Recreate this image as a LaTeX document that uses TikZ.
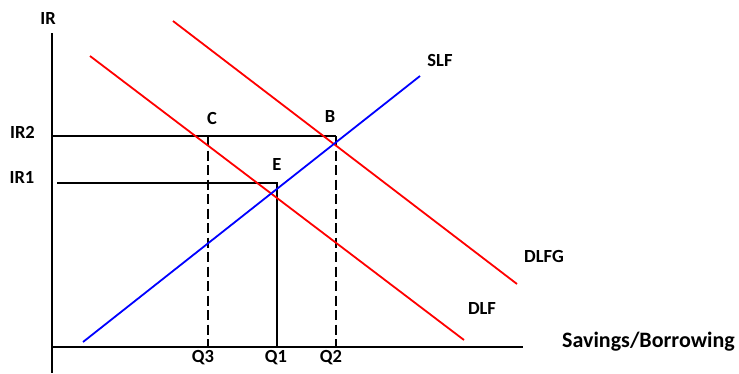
\documentclass[tikz,border=0pt]{standalone}
\usepackage{fontspec}
\setmainfont{Carlito}
\usepackage{xcolor}
\usetikzlibrary{positioning}
\definecolor{rojoDLF}{RGB}{255,0,0}
\definecolor{azulSLF}{RGB}{0,0,255}

\begin{document}
\begin{tikzpicture}[
  x=1pt, y=-1pt,
  axis/.style={line width=2pt, black},
  guide/.style={line width=1.8pt, black},
  guidedash/.style={guide, dash pattern=on 10pt off 4.5pt},
  demand/.style={line width=1.8pt, rojoDLF},
  supply/.style={line width=1.8pt, azulSLF},
  lbl/.style={font=\fontsize{18.5}{20}\selectfont\bfseries, inner sep=0pt, anchor=base},
  axlbl/.style={font=\fontsize{22}{24}\selectfont\bfseries, inner sep=0pt, anchor=base west}
]
\useasboundingbox (0,0) rectangle (739,373);

% Puntos de los ejes
\coordinate (ytop) at (52,33);
\coordinate (ybot) at (52,373);
\coordinate (xbeg) at (52,346.5);
\coordinate (xend) at (523,346.5);

% Puntos de las curvas
\coordinate (slf-a) at (83,342);
\coordinate (slf-b) at (420,76);
\coordinate (dlf-a) at (90,56);
\coordinate (dlf-b) at (464,340);
\coordinate (dlfg-a) at (173,21);
\coordinate (dlfg-b) at (517,284);

% Puntos de las guias
\coordinate (ir2-a) at (52,136);
\coordinate (ir2-b) at (336,136);
\coordinate (ir1-a) at (57,183);
\coordinate (ir1-b) at (277,183);
\coordinate (q3-a) at (208,136);
\coordinate (q3-b) at (208,346.5);
\coordinate (q1-b) at (277,346.5);
\coordinate (q2-b) at (336,346.5);

% Ejes
\draw[axis] (ytop) -- (ybot);
\draw[axis] (xbeg) -- (xend);

% Guias
\draw[guide] (ir2-a) -- (ir2-b);
\draw[guide] (ir1-a) -- (ir1-b) -- (q1-b);
\draw[guidedash] (q3-a) -- (q3-b);
\draw[guidedash] (ir2-b) -- (q2-b);

% Curvas
\draw[demand] (dlf-a) -- (dlf-b);
\draw[demand] (dlfg-a) -- (dlfg-b);
\draw[supply] (slf-a) -- (slf-b);

% Etiquetas
\node[lbl] (ir) at (48,24) {IR};
\node[lbl] (ir2) at (22.5,138) {IR2};
\node[lbl] (ir1) at (22,183) {IR1};
\node[lbl] (ptC) at (212,124) {C};
\node[lbl] (ptB) at (330,122) {B};
\node[lbl] (ptE) at (277,170) {E};
\node[lbl] (slf) at (440,66) {SLF};
\node[lbl] (dlfg) at (544,262) {DLFG};
\node[lbl] (dlf) at (482,314) {DLF};
\node[lbl] (q3) at (203,362) {Q3};
\node[lbl] (q1) at (276,362) {Q1};
\node[lbl] (q2) at (331,362) {Q2};
\node[axlbl] (sav) at (562,347) {Savings/Borrowing};
\end{tikzpicture}
\end{document}
